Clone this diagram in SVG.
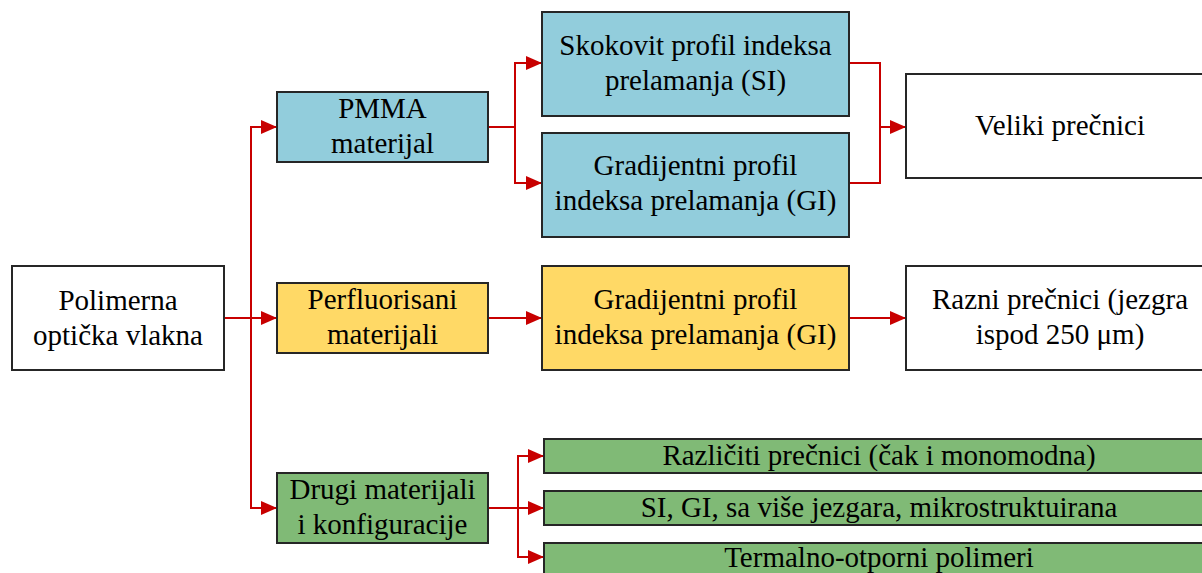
<svg xmlns="http://www.w3.org/2000/svg" width="1202" height="573" viewBox="0 0 1202 573">
<defs>
<marker id="arr" viewBox="0 0 16 14" refX="16" refY="7" markerWidth="16" markerHeight="14" markerUnits="userSpaceOnUse" orient="auto">
<path d="M0,0 L16,7 L0,14 z" fill="#C80000"/>
</marker>
<style>
.box{stroke:#262626;stroke-width:2}
.w{fill:#ffffff}
.b{fill:#92CDDC}
.y{fill:#FFD966}
.g{fill:#80BA76}
.t{font-family:'Liberation Serif',serif;font-size:29px;fill:#000000;text-anchor:middle}
.c{fill:none;stroke:#C80000;stroke-width:2}
</style>
</defs>
<rect width="1202" height="573" fill="#ffffff"/>
<g id="connectors">
<path class="c" d="M224,318 L277,318" marker-end="url(#arr)"/>
<path class="c" d="M251,318 L251,127 L277,127" marker-end="url(#arr)"/>
<path class="c" d="M251,318 L251,508 L277,508" marker-end="url(#arr)"/>
<path class="c" d="M488,127 L515,127 L515,63 L542,63" marker-end="url(#arr)"/>
<path class="c" d="M515,127 L515,183 L542,183" marker-end="url(#arr)"/>
<path class="c" d="M849,63 L880,63 L880,127 L906,127" marker-end="url(#arr)"/>
<path class="c" d="M849,183 L880,183 L880,127"/>
<path class="c" d="M488,318 L542,318" marker-end="url(#arr)"/>
<path class="c" d="M849,318 L906,318" marker-end="url(#arr)"/>
<path class="c" d="M488,508 L544,508" marker-end="url(#arr)"/>
<path class="c" d="M518,508 L518,456 L544,456" marker-end="url(#arr)"/>
<path class="c" d="M518,508 L518,557 L544,557" marker-end="url(#arr)"/>
</g>
<g class="t" font-family="Liberation Serif, serif">
<g id="polimerna">
<rect class="box w" x="12" y="266" width="212" height="104"/>
<text x="118" y="310">Polimerna</text>
<text x="118" y="345">optička vlakna</text>
</g>
<g id="pmma">
<rect class="box b" x="277" y="92" width="211" height="70"/>
<text x="382.5" y="118">PMMA</text>
<text x="382.5" y="153">materijal</text>
</g>
<g id="perfluorisani">
<rect class="box y" x="277" y="283" width="211" height="70"/>
<text x="382.5" y="309">Perfluorisani</text>
<text x="382.5" y="344">materijali</text>
</g>
<g id="drugi">
<rect class="box g" x="277" y="473" width="211" height="70"/>
<text x="382.5" y="499">Drugi materijali</text>
<text x="382.5" y="534">i konfiguracije</text>
</g>
<g id="si">
<rect class="box b" x="542" y="12" width="307" height="104"/>
<text x="695.5" y="55">Skokovit profil indeksa</text>
<text x="695.5" y="90">prelamanja (SI)</text>
</g>
<g id="gi-pmma">
<rect class="box b" x="542" y="133" width="307" height="104"/>
<text x="695.5" y="175">Gradijentni profil</text>
<text x="695.5" y="210">indeksa prelamanja (GI)</text>
</g>
<g id="gi-perf">
<rect class="box y" x="542" y="266" width="307" height="104"/>
<text x="695.5" y="309">Gradijentni profil</text>
<text x="695.5" y="344">indeksa prelamanja (GI)</text>
</g>
<g id="veliki">
<rect class="box w" x="906" y="74" width="308" height="104"/>
<text x="1060" y="135">Veliki prečnici</text>
</g>
<g id="razni">
<rect class="box w" x="906" y="266" width="308" height="104"/>
<text x="1060" y="309">Razni prečnici (jezgra</text>
<text x="1060" y="344">ispod 250 μm)</text>
</g>
<g id="razliciti">
<rect class="box g" x="544" y="439" width="670" height="34"/>
<text x="879" y="465">Različiti prečnici (čak i monomodna)</text>
</g>
<g id="si-gi">
<rect class="box g" x="544" y="491" width="670" height="34"/>
<text x="879" y="517">SI, GI, sa više jezgara, mikrostruktuirana</text>
</g>
<g id="termalno">
<rect class="box g" x="544" y="543" width="670" height="60"/>
<text x="879" y="567">Termalno-otporni polimeri</text>
</g>
</g>
</svg>
